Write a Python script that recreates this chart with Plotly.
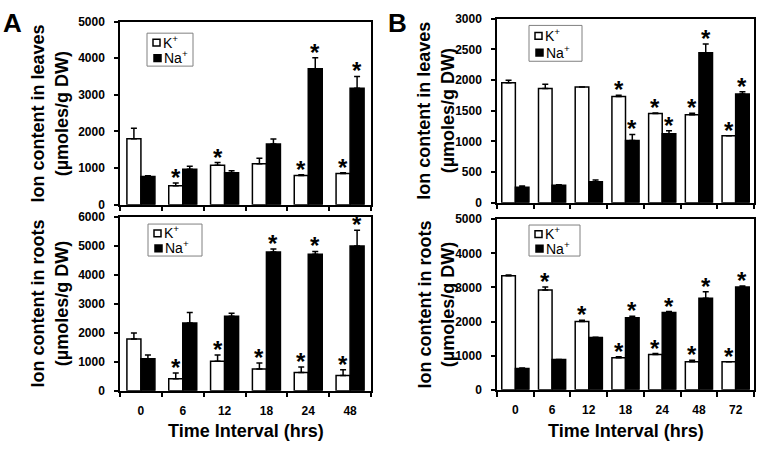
import plotly.graph_objects as go

# ---------------- data ----------------
A_times = ["0", "6", "12", "18", "24", "48"]
A_leaf_K = [1800, 520, 1080, 1120, 800, 850]
A_leaf_K_err = [290, 70, 70, 150, 20, 20]
A_leaf_Na = [770, 970, 875, 1660, 3710, 3180]
A_leaf_Na_err = [20, 80, 50, 130, 300, 320]
A_leaf_K_sig = [0, 1, 1, 0, 1, 1]
A_leaf_Na_sig = [0, 0, 0, 0, 1, 1]

A_root_K = [1790, 415, 1020, 750, 630, 530]
A_root_K_err = [210, 200, 220, 210, 190, 200]
A_root_Na = [1110, 2340, 2580, 4800, 4720, 5010]
A_root_Na_err = [130, 370, 100, 100, 100, 540]
A_root_K_sig = [0, 1, 1, 1, 1, 1]
A_root_Na_sig = [0, 0, 0, 1, 1, 1]

B_times = ["0", "6", "12", "18", "24", "48", "72"]
B_leaf_K = [1955, 1860, 1886, 1733, 1453, 1432, 1093]
B_leaf_K_err = [40, 70, 0, 20, 10, 25, 0]
B_leaf_Na = [254, 285, 343, 1014, 1125, 2446, 1770]
B_leaf_Na_err = [20, 10, 27, 100, 50, 140, 40]
B_leaf_K_sig = [0, 0, 0, 1, 1, 1, 1]
B_leaf_Na_sig = [0, 0, 0, 1, 1, 1, 1]

B_root_K = [3343, 2926, 1998, 937, 1032, 824, 824]
B_root_K_err = [20, 85, 40, 30, 30, 40, 0]
B_root_Na = [625, 890, 1534, 2112, 2263, 2680, 3011]
B_root_Na_err = [10, 0, 5, 40, 30, 190, 30]
B_root_K_sig = [0, 1, 1, 1, 1, 1, 1]
B_root_Na_sig = [0, 0, 0, 1, 1, 1, 1]

legend_labels = ["K<sup>+</sup>", "Na<sup>+</sup>"]

FONT = "Liberation Sans, Arial, sans-serif"
W, H = 759, 452

fig = go.Figure()
ann = []
shapes = []


def px_x(v):
    return v / W


def px_y(v):
    return 1 - v / H


def panel(n_ax, cats, k, kerr, ksig, na, naerr, nasig, bw):
    xa = "x" if n_ax == 1 else f"x{n_ax}"
    ya = "y" if n_ax == 1 else f"y{n_ax}"
    idx = list(range(len(cats)))
    zeros = [0] * len(cats)
    for vals, errs, fill, off, name in ((k, kerr, "white", -bw, "K+"),
                                        (na, naerr, "black", 0, "Na+")):
        fig.add_trace(go.Bar(
            x=idx, y=vals, width=bw, offset=off, name=name,
            marker=dict(color=fill, line=dict(color="black", width=1.5)),
            error_y=dict(type="data", array=errs, arrayminus=zeros, symmetric=False,
                         color="black", thickness=1.5, width=3),
            xaxis=xa, yaxis=ya, showlegend=False, hoverinfo="y"))
    for i in idx:
        for sig, vals, errs, dx in ((ksig, k, kerr, -bw / 2), (nasig, na, naerr, bw / 2)):
            if sig[i]:
                ann.append(dict(x=i + dx, y=vals[i] + errs[i], xref=xa, yref=ya,
                                text="*", showarrow=False, xanchor="center",
                                yanchor="bottom", yshift=-10,
                                font=dict(family=FONT, size=24, color="black",
                                          weight="bold")))


panel(1, A_times, A_leaf_K, A_leaf_K_err, A_leaf_K_sig, A_leaf_Na, A_leaf_Na_err, A_leaf_Na_sig, 0.335)
panel(2, A_times, A_root_K, A_root_K_err, A_root_K_sig, A_root_Na, A_root_Na_err, A_root_Na_sig, 0.335)
panel(3, B_times, B_leaf_K, B_leaf_K_err, B_leaf_K_sig, B_leaf_Na, B_leaf_Na_err, B_leaf_Na_sig, 0.37)
panel(4, B_times, B_root_K, B_root_K_err, B_root_K_sig, B_root_Na, B_root_Na_err, B_root_Na_sig, 0.37)

tickfont = dict(family=FONT, size=12, color="black", weight="bold")


def xaxis(cats, dom, anchor, labels):
    n = len(cats)
    return dict(domain=dom, anchor=anchor, range=[-0.5, n - 0.5],
                tickmode="array", tickvals=list(range(n)), ticktext=cats,
                ticks="outside", ticklen=8, tickcolor="rgba(0,0,0,0)",
                showticklabels=labels, tickfont=tickfont,
                minor=dict(tickmode="linear", tick0=0.5, dtick=1, ticks="outside",
                           ticklen=5, tickwidth=1.5, tickcolor="black", showgrid=False),
                showline=True, linecolor="black", linewidth=1.5, mirror=True,
                showgrid=False, zeroline=False, fixedrange=True)


def yaxis(rng, dt, dom, anchor):
    return dict(domain=dom, anchor=anchor, range=rng, dtick=dt, tick0=0,
                ticks="outside", ticklen=4, tickwidth=1.5, tickcolor="black",
                tickfont=tickfont, ticklabelstandoff=7,
                showline=True, linecolor="black", linewidth=1.5, mirror=True,
                showgrid=False, zeroline=False, fixedrange=True)


Ax = [px_x(120), px_x(371)]
Bx = [px_x(497), px_x(754)]

title_font = dict(family=FONT, size=18, color="black", weight="bold")
# y titles
for xc, yc, txt in ((50, 110, "Ion content in leaves<br>(µmoles/g DW)"),
                    (50, 306, "Ion content in roots<br>(µmoles/g DW)"),
                    (436, 107, "Ion content in leaves<br>(µmoles/g DW)"),
                    (436, 307, "Ion content in roots<br>(µmoles/g DW)")):
    ann.append(dict(x=px_x(xc), y=px_y(yc), xref="paper", yref="paper", text=txt,
                    textangle=-90, showarrow=False, font=title_font,
                    xanchor="center", yanchor="middle"))
# x titles
for xc in (245.5, 625.5):
    ann.append(dict(x=px_x(xc), y=px_y(438), xref="paper", yref="paper",
                    text="Time Interval (hrs)", showarrow=False, font=title_font,
                    xanchor="center", yanchor="middle"))
# panel letters
for xc, letter in ((12, "A"), (397, "B")):
    ann.append(dict(x=px_x(xc), y=px_y(16), xref="paper", yref="paper", text=letter,
                    showarrow=False, xanchor="center", yanchor="middle",
                    font=dict(family=FONT, size=26, color="black", weight="bold")))

# legends (boxes: left, top, right, bottom in px)
for (l, t, r, b) in ((147, 27, 193, 61), (148, 224, 202, 257),
                     (529, 19, 582, 56), (529, 225, 580, 257)):
    h = b - t
    shapes.append(dict(type="rect", xref="paper", yref="paper",
                       x0=px_x(l), x1=px_x(r), y0=px_y(b), y1=px_y(t),
                       line=dict(color="#808080", width=1), fillcolor="white",
                       layer="above"))
    rows = (t + h * 0.29, t + h * 0.76)
    for (yc, fill, lab, sx) in ((rows[0], "white", legend_labels[0], 6),
                                (rows[1], "black", legend_labels[1], 7)):
        shapes.append(dict(type="rect", xref="paper", yref="paper",
                           x0=px_x(l + sx), x1=px_x(l + sx + 7),
                           y0=px_y(yc + 3.5), y1=px_y(yc - 3.5),
                           line=dict(color="black", width=1.5), fillcolor=fill,
                           layer="above"))
        ann.append(dict(x=px_x(l + sx + 8), y=px_y(yc - 1), xref="paper", yref="paper",
                        text=lab, showarrow=False, xanchor="left", yanchor="middle",
                        font=dict(family=FONT, size=14, color="black")))

fig.update_layout(
    width=W, height=H, margin=dict(l=0, r=0, t=0, b=0, pad=0),
    paper_bgcolor="white", plot_bgcolor="white", barmode="overlay",
    font=dict(family=FONT, color="black"),
    xaxis=xaxis(A_times, Ax, "y", False),
    yaxis=yaxis([0, 5000], 1000, [px_y(204), px_y(15)], "x"),
    xaxis2=xaxis(A_times, Ax, "y2", True),
    yaxis2=yaxis([0, 6000], 1000, [px_y(396), px_y(217)], "x2"),
    xaxis3=xaxis(B_times, Bx, "y3", False),
    yaxis3=yaxis([0, 3000], 500, [px_y(202), px_y(12)], "x3"),
    xaxis4=xaxis(B_times, Bx, "y4", True),
    yaxis4=yaxis([0, 5000], 1000, [px_y(395), px_y(219)], "x4"),
    annotations=ann, shapes=shapes,
)

fig.write_html("out.html", config={"displayModeBar": False},
               post_script="document.body.style.margin='0';"
                           "document.documentElement.style.overflow='hidden';"
                           "document.body.style.overflow='hidden';")
